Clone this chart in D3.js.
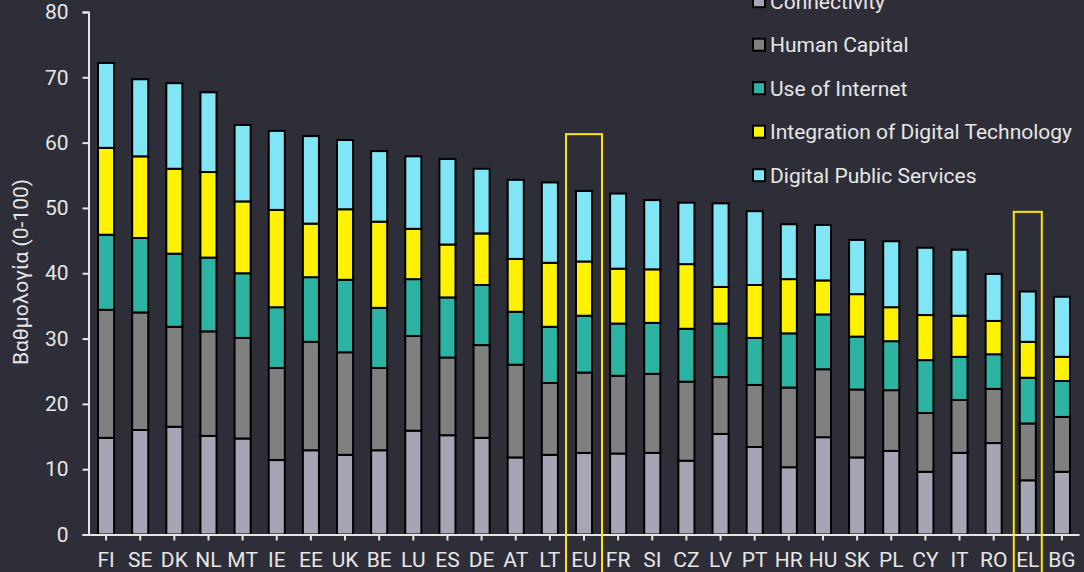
<!DOCTYPE html>
<html>
<head>
<meta charset="utf-8">
<script src="https://cdn.jsdelivr.net/npm/d3@7/dist/d3.min.js"></script>
<style>
body{margin:0;background:#2e2e38;}
svg{display:block;}
.axis text{font-family:Roboto,"DejaVu Sans",sans-serif;font-size:21px;fill:#e6e6e6;}
.axis path,.axis line{stroke:#e6e6e6;stroke-width:2;}
</style>
</head>
<body>
<script>
var countries=["FI","SE","DK","NL","MT","IE","EE","UK","BE","LU","ES","DE","AT","LT","EU","FR","SI","CZ","LV","PT","HR","HU","SK","PL","CY","IT","RO","EL","BG"];
var connectivity=[14.8,16.0,16.5,15.1,14.7,11.4,12.9,12.2,12.9,15.9,15.2,14.8,11.8,12.2,12.5,12.4,12.5,11.3,15.4,13.4,10.3,14.9,11.8,12.8,9.6,12.5,14.0,8.3,9.6];
var humanCapital=[19.6,18.0,15.3,16.0,15.4,14.1,16.6,15.7,12.6,14.5,11.9,14.2,14.2,11.0,12.3,11.9,12.1,12.1,8.7,9.5,12.2,10.4,10.4,9.3,9.0,8.1,8.3,8.7,8.4];
var useOfInternet=[11.5,11.4,11.2,11.3,9.9,9.3,9.9,11.1,9.2,8.7,9.2,9.2,8.1,8.6,8.7,8.0,7.8,8.1,8.2,7.2,8.3,8.4,8.1,7.5,8.1,6.6,5.3,7.0,5.5];
var integration=[13.3,12.5,13.0,13.1,11.0,14.9,8.2,10.8,13.2,7.7,8.1,7.9,8.1,9.8,8.3,8.4,8.2,9.9,5.6,8.1,8.3,5.2,6.5,5.2,6.9,6.3,5.1,5.5,3.7];
var publicServices=[13.0,11.8,13.1,12.2,11.7,12.1,13.4,10.6,10.8,11.1,13.1,9.9,12.1,12.3,10.8,11.5,10.6,9.4,12.8,11.3,8.4,8.5,8.3,10.1,10.3,10.1,7.2,7.7,9.2];
var seriesNames=["Connectivity","Human Capital","Use of Internet","Integration of Digital Technology","Digital Public Services"];
var colors=["#a6a5b6","#808080","#2db3a2","#fff200","#80e6f6"];
var yTicks=[0,10,20,30,40,50,60,70,80];
var yLabel="Βαθμολογία (0-100)";
var highlighted=["EU","EL"];
var highlightTop=[61.3,49.4];

var width=1084,height=572;
var keys=["c","h","u","i","p"];
var data=countries.map(function(c,i){
	return {country:c,c:connectivity[i],h:humanCapital[i],u:useOfInternet[i],i:integration[i],p:publicServices[i]};
});
var stacked=d3.stack().keys(keys)(data);

var x=d3.scaleBand()
		.domain(countries)
		.range([89,1079])
		.paddingInner(0.5)
		.paddingOuter(0.25);
var y=d3.scaleLinear()
		.domain([0,80])
		.range([534.5,12]);
var color=d3.scaleOrdinal().domain(keys).range(colors);

var svg=d3.select('body').append('svg')
		.attr('width',width)
		.attr('height',height);
svg.append('rect').attr('width',width).attr('height',height).attr('fill','#2e2e38');

// stacked bars
svg.selectAll('.layer')
	.data(stacked)
	.enter().append('g')
	.attr('class','layer')
	.attr('fill',function(d){return color(d.key);})
	.selectAll('rect')
	.data(function(d){return d;})
	.enter().append('rect')
	.attr('x',function(d){return x(d.data.country)+0.5;})
	.attr('y',function(d){return y(d[1]);})
	.attr('width',x.bandwidth()-1)
	.attr('height',function(d){return y(d[0])-y(d[1]);})
	.attr('stroke','#000')
	.attr('stroke-width',2);

// axes
var xAxis=d3.axisBottom(x).tickSize(6).tickSizeOuter(0).tickPadding(12);
var yAxis=d3.axisLeft(y).tickValues(yTicks).tickSize(6).tickPadding(14);
svg.append('g').attr('class','x axis').attr('transform','translate(0,'+y(0)+')').call(xAxis);
svg.append('g').attr('class','y axis').attr('transform','translate(88.5,0)').call(yAxis);

// highlight frames (EU frame a bit wider than the EL one)
var frameHalf=[18,14];
svg.selectAll('.hl')
	.data(highlighted)
	.enter().append('rect')
	.attr('class','hl')
	.attr('x',function(d,i){return x(d)+x.bandwidth()/2-frameHalf[i];})
	.attr('y',function(d,i){return y(highlightTop[i]);})
	.attr('width',function(d,i){return frameHalf[i]*2;})
	.attr('height',function(d,i){return height+10-y(highlightTop[i]);})
	.attr('fill','none')
	.attr('stroke','#ffe600')
	.attr('stroke-width',2);

// y label
svg.append('text')
	.attr('transform','translate(28,272) rotate(-90)')
	.attr('text-anchor','middle')
	.attr('font-family','Roboto, "DejaVu Sans", sans-serif')
	.attr('font-size',21)
	.attr('fill','#e6e6e6')
	.text(yLabel);

// legend
var legend=svg.selectAll('.legend')
	.data(seriesNames)
	.enter().append('g')
	.attr('class','legend')
	.attr('transform',function(d,i){return 'translate(753,'+(1.2+i*43.5)+')';});
legend.append('rect')
	.attr('x',0).attr('y',-6)
	.attr('width',12).attr('height',12)
	.attr('fill',function(d,i){return colors[i];})
	.attr('stroke','#000').attr('stroke-width',2);
legend.append('text')
	.attr('x',17).attr('y',0).attr('dy','0.35em')
	.attr('font-family','Roboto, "DejaVu Sans", sans-serif')
	.attr('font-size',21)
	.attr('fill','#e6e6e6')
	.text(function(d){return d;});
</script>
</body>
</html>
